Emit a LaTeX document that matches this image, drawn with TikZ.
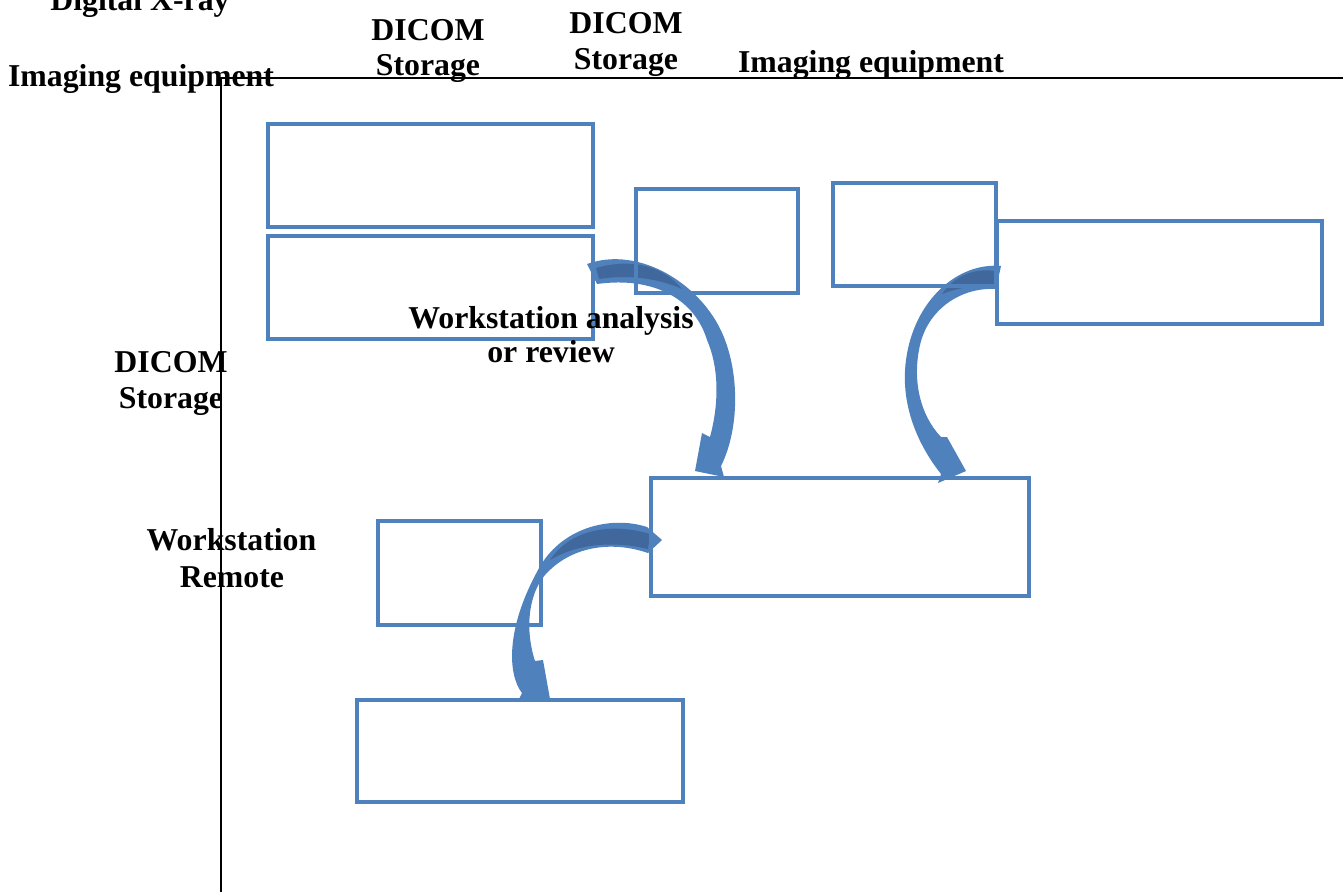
\documentclass[tikz,border=0pt]{standalone}
\usepackage{fontspec}
\setmainfont{Liberation Serif}
\definecolor{boxblue}{HTML}{4F81BD}
\definecolor{darkblue}{HTML}{41689C}
\begin{document}
\begin{tikzpicture}[x=1pt,y=-1pt,
  box/.style={draw=boxblue,line width=4pt,inner sep=0pt,outer sep=0pt,rectangle},
  lbl/.style={font=\fontsize{31.8}{36}\selectfont\bfseries,inner sep=0pt,anchor=base},
  axis/.style={draw=black,line width=1.5pt},
  ribbon/.style={fill=boxblue,draw=none},
  shade/.style={fill=darkblue,draw=none}]
\useasboundingbox (0,0) rectangle (1343,892);
% axes
\coordinate (o) at (221,78);
\coordinate (xr) at (1343,78);
\coordinate (yb) at (221,892);
\draw[axis] (xr) -- (o) -- (yb);
% curved arrows
\path[ribbon] (587,264) .. controls (640,245) and (702,285) .. (723,335)
  .. controls (740,375) and (739,430) .. (721,466) -- (724,477) -- (695,471)
  -- (702,433) -- (710,437) .. controls (720,400) and (718,365) .. (707,340)
  .. controls (695,300) and (655,276) .. (597,284) -- cycle;
\path[shade] (596,268) .. controls (635,257) and (665,268) .. (682,289)
  .. controls (660,279) and (630,274) .. (599,279) -- cycle;
\path[ribbon] (1001,266) .. controls (958,262) and (914,300) .. (906,360)
  .. controls (900,405) and (918,445) .. (941,474) -- (938,483) -- (966,471)
  -- (947,437) -- (941,437) .. controls (920,415) and (912,380) .. (920,345)
  .. controls (928,310) and (960,287) .. (996,289) -- cycle;
\path[shade] (995,271) .. controls (975,268) and (955,275) .. (942,294)
  .. controls (960,287) and (978,285) .. (995,286) -- cycle;
\path[ribbon] (662,540) -- (647,527) .. controls (610,515) and (560,528) .. (538,570)
  .. controls (505,630) and (508,675) .. (522,693) -- (518,701) -- (550,699)
  -- (543,660) -- (535,661) .. controls (525,630) and (528,595) .. (545,575)
  .. controls (570,547) and (610,540) .. (648,553) -- cycle;
\path[shade] (650,534) .. controls (610,522) and (570,530) .. (550,560)
  .. controls (575,545) and (610,540) .. (648,549) -- cycle;
% boxes
\node[box,minimum width=325pt,minimum height=103pt] (b1) at (430.5,175.5) {};
\node[box,minimum width=325pt,minimum height=103pt] (b2) at (430.5,287.5) {};
\node[box,minimum width=162pt,minimum height=104pt] (b3) at (717,241) {};
\node[box,minimum width=163pt,minimum height=103pt] (b4) at (914.5,234.5) {};
\node[box,minimum width=325pt,minimum height=103pt] (b5) at (1159.5,272.5) {};
\node[box,minimum width=378pt,minimum height=118pt] (b6) at (840,537) {};
\node[box,minimum width=163pt,minimum height=104pt] (b7) at (459.5,573) {};
\node[box,minimum width=326pt,minimum height=102pt] (b8) at (520,751) {};
% labels
\node[lbl] (t1) at (140,10) {Digital X-ray};
\node[lbl] (t2) at (141,86) {Imaging equipment};
\node[lbl] (t3) at (428,40) {DICOM};
\node[lbl] (t4) at (428,75) {Storage};
\node[lbl] (t5) at (626,33) {DICOM};
\node[lbl] (t6) at (626,69) {Storage};
\node[lbl] (t7) at (871,72) {Imaging equipment};
\node[lbl] (t8) at (551,328) {Workstation analysis};
\node[lbl] (t9) at (551,362) {or review};
\node[lbl] (t10) at (171,372) {DICOM};
\node[lbl] (t11) at (171,408) {Storage};
\node[lbl] (t12) at (231.5,550) {Workstation};
\node[lbl] (t13) at (232,587) {Remote};
\end{tikzpicture}
\end{document}
